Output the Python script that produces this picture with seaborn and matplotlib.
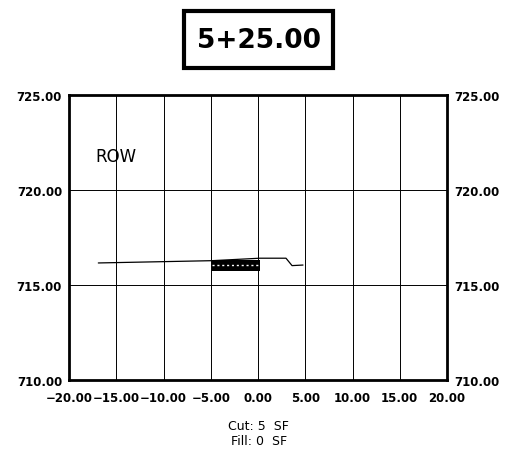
import numpy as np
import pandas as pd
import matplotlib
matplotlib.use("Agg")
import matplotlib.pyplot as plt
import seaborn as sns
from matplotlib.patches import Rectangle

# ---------- data ----------
station = "5+25.00"
ground_x = [-16.9, -4.87, 0.2, 2.96, 3.6, 4.76]
ground_y = [716.16, 716.28, 716.41, 716.41, 716.02, 716.05]

# cut area block (offset range, bottom / top elevation)
box_x = [-4.87, 0.2]
box_lo = [715.74, 715.74]
box_hi = [716.32, 716.32]

x_ticks = [-20, -15, -10, -5, 0, 5, 10, 15, 20]
y_ticks = [710, 715, 720, 725]
row_label = "ROW"
row_pos = (-17.25, 721.8)
cut_sf = 5
fill_sf = 0

# ---------- style ----------
sns.set_style("white")
plt.rcParams["font.family"] = ["DejaVu Sans"]
plt.rcParams["text.color"] = "black"
plt.rcParams["xtick.color"] = "black"
plt.rcParams["ytick.color"] = "black"

fig = plt.figure(figsize=(5.24, 4.64), dpi=100)
ax = fig.add_axes([0.1317, 0.1789, 0.7214, 0.6142])

df = pd.DataFrame({"offset": ground_x, "elev": ground_y})
sns.lineplot(data=df, x="offset", y="elev", color="black", lw=0.9, ax=ax)

ax.fill_between(box_x, box_lo, box_hi, color="black", lw=0)
ax.plot(box_x, [(l + h) / 2 for l, h in zip(box_lo, box_hi)],
        color="white", lw=1.0, ls=(0, (1.5, 2)))

ax.set_xlim(-20, 20)
ax.set_ylim(710, 725)
ax.set_xticks(x_ticks)
ax.set_yticks(y_ticks)
ax.set_xticklabels([f"{v:.2f}".replace("-", "\u2212") for v in x_ticks],
                   fontsize=8.5, fontweight="bold", color="black")
ax.set_yticklabels([f"{v:.2f}" for v in y_ticks], fontsize=8.5,
                   fontweight="bold", color="black")
ax.tick_params(axis="both", length=0, labelright=True, labelcolor="black")
ax.tick_params(axis="x", pad=8)
ax.tick_params(axis="y", pad=5)
ax.set_xlabel("")
ax.set_ylabel("")

ax.grid(True, color="black", lw=0.7)
for s in ax.spines.values():
    s.set_color("black")
    s.set_linewidth(2)

ax.text(row_pos[0], row_pos[1], row_label, fontsize=12, va="center", ha="left",
        color="black")

# station title box
fig.patches.append(Rectangle((0.351, 0.8513), 0.284, 0.1228, transform=fig.transFigure,
                             fill=False, edgecolor="black", lw=3))
fig.text(0.4935, 0.9127, station, ha="center", va="center",
         fontsize=19, fontweight="bold", color="black")

fig.text(0.4935, 1 - 427 / 464, f"Cut: {cut_sf}  SF", ha="center", va="center",
         fontsize=9, color="black")
fig.text(0.4935, 1 - 442 / 464, f"Fill: {fill_sf}  SF", ha="center", va="center",
         fontsize=9, color="black")

fig.savefig("out.png", dpi=100)
